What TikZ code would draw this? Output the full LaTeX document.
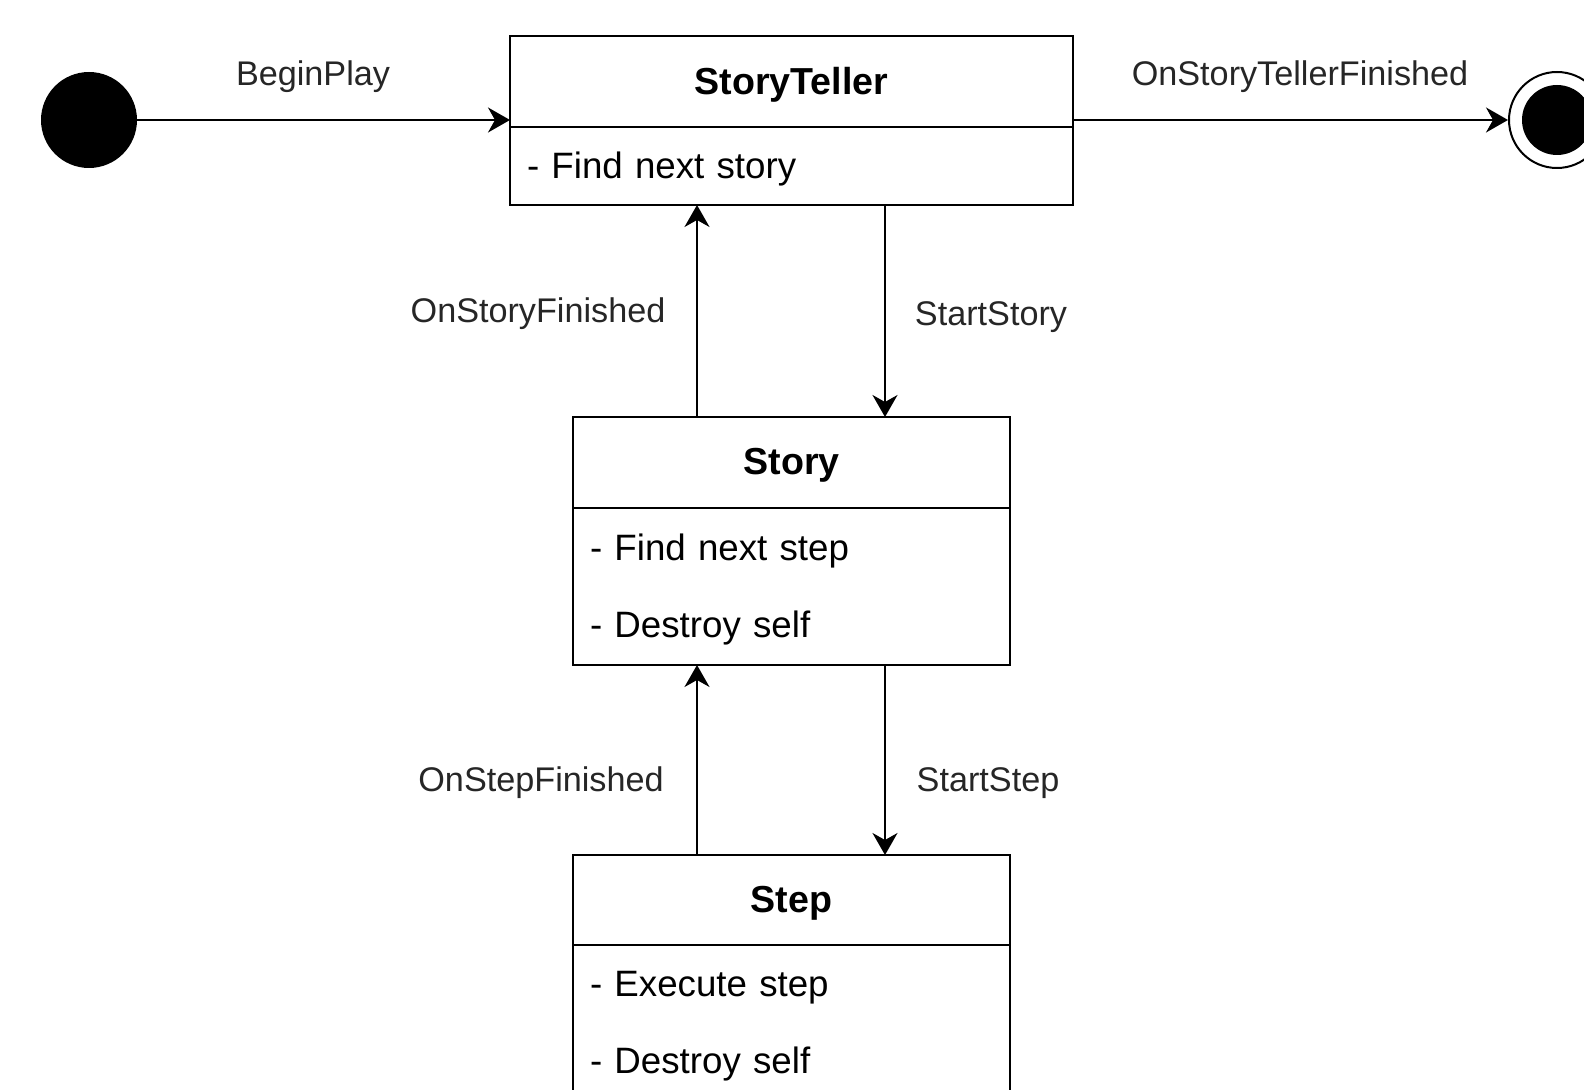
\documentclass[tikz,border=0pt]{standalone}
\usepackage{fontspec}
\setmainfont{Liberation Sans}
\usetikzlibrary{positioning,arrows.meta}

\tikzset{
  statehead/.style={draw, line width=1pt, outer sep=0pt, text depth=0.9pt, font=\fontsize{18.8}{22}\selectfont\bfseries},
  statebody/.style={draw, line width=1pt, outer sep=0pt, align=left, inner xsep=8.5pt, text depth=0.9pt, font=\fontsize{18.35}{38.5}\selectfont},
  twolines/.style={text depth=39.4pt},
  lbl/.style={font=\fontsize{17.1}{20}\selectfont, text=black!85},
  flow/.style={line width=1pt, -{Stealth[length=11pt,width=12.5pt,inset=3.5pt]}},
  initstate/.style={circle, fill, minimum size=48pt, inner sep=0pt},
  finalstate/.style={circle, draw, line width=1pt, minimum size=48pt, inner sep=0pt,
    path picture={\fill (path picture bounding box.center) circle (17.5pt);}}
}

\begin{document}
\begin{tikzpicture}[x=0.5pt,y=-0.5pt]
\useasboundingbox (0,0) rectangle (1584,1090);

% states
\node[statehead, minimum width=281.5pt, minimum height=45.5pt] (tellerhead) at (791.5,81.5) {StoryTeller};
\node[statebody, text width=264.5pt, minimum height=39pt, below=0pt of tellerhead] (tellerbody) {- Find next story};

\node[statehead, minimum width=218.5pt, minimum height=45.5pt] (storyhead) at (791.5,462.5) {Story};
\node[statebody, twolines, text width=201.5pt, minimum height=78.5pt, below=0pt of storyhead] (storybody) {- Find next step\\- Destroy self};

\node[statehead, minimum width=218.5pt, minimum height=45pt] (stephead) at (791.5,900) {Step};
\node[statebody, twolines, text width=201.5pt, minimum height=78.5pt, below=0pt of stephead] (stepbody) {- Execute step\\- Destroy self};

\node[initstate] (start) at (89,120) {};
\node[finalstate] (finish) at (1557,120) {};

% transitions
\draw[flow] (start.east) -- (start.east -| tellerhead.west);
\draw[flow] (tellerhead.east |- finish.west) -- (finish.west);

\draw[flow] ([xshift=46.75pt]tellerbody.south) -- ([xshift=46.75pt]storyhead.north);
\draw[flow] ([xshift=-47.25pt]storyhead.north) -- ([xshift=-47.25pt]tellerbody.south);
\draw[flow] ([xshift=46.75pt]storybody.south) -- ([xshift=46.75pt]stephead.north);
\draw[flow] ([xshift=-47.25pt]stephead.north) -- ([xshift=-47.25pt]storybody.south);

% labels
\node[lbl] (lblbegin) at (313,77) {BeginPlay};
\node[lbl] (lblend) at (1300,77) {OnStoryTellerFinished};
\node[lbl] (lblstorydone) at (538,314) {OnStoryFinished};
\node[lbl] (lblstorystart) at (991,317) {StartStory};
\node[lbl] (lblstepdone) at (541,783) {OnStepFinished};
\node[lbl] (lblstepstart) at (988,783) {StartStep};
\end{tikzpicture}
\end{document}
